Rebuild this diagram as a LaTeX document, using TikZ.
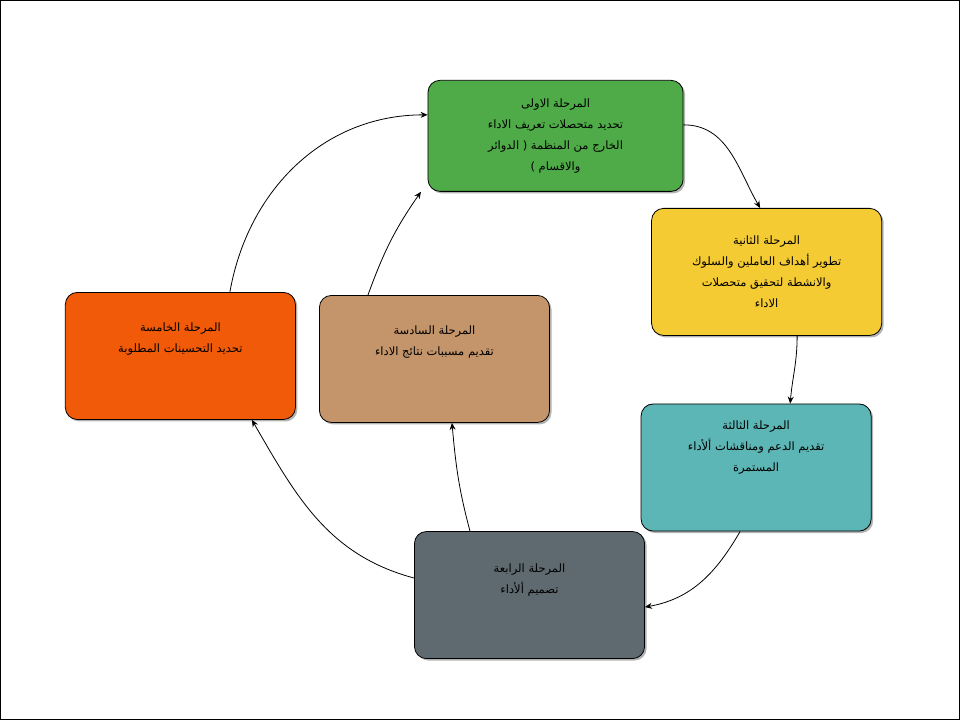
\documentclass[tikz,border=0pt]{standalone}
\usepackage{fontspec}
\newfontfamily\arabicfont[Script=Arabic]{DejaVu Sans}
\TeXXeTstate=1
\usetikzlibrary{shadows,arrows.meta}
\newcommand{\RL}[1]{\beginR #1\endR}
\definecolor{cA}{HTML}{4EAB47}
\definecolor{cB}{HTML}{F4CB33}
\definecolor{cC}{HTML}{5CB6B5}
\definecolor{cD}{HTML}{5F6A70}
\definecolor{cE}{HTML}{F05A08}
\definecolor{cF}{HTML}{C4956B}
\begin{document}
\begin{tikzpicture}[x=1pt,y=-1pt,
  stage/.style={draw=black, line width=0.8pt, rounded corners=12pt, minimum width=230pt, minimum height=127pt, align=center, font=\arabicfont\fontsize{11.5}{21}\selectfont, drop shadow={shadow xshift=2pt,shadow yshift=-2pt,opacity=0.6}},
  conn/.style={-{Stealth[length=7pt,width=6pt]}, line width=0.8pt}]
\draw[line width=0.6pt] (0.5,0.5) rectangle (959.5,719.5);
\node[stage, fill=cA, minimum width=255pt, minimum height=111pt] (s1) at (555.5,136) {\RL{المرحلة الاولى}\\\RL{تحديد متحصلات تعريف الاداء}\\\RL{الخارج من المنظمة ( الدوائر}\\\RL{والاقسام )}};
\node[stage, fill=cB] (s2) at (766.5,272) {\RL{المرحلة الثانية}\\\RL{تطوير أهداف العاملين والسلوك}\\\RL{والانشطة لتحقيق متحصلات}\\\RL{الاداء}};
\node[stage, fill=cC] (s3) at (756,467.5) {\RL{المرحلة الثالثة}\\\RL{تقديم الدعم ومناقشات ألأداء}\\\RL{المستمرة}\\[21pt]};
\node[stage, fill=cD] (s4) at (529.5,595) {\RL{المرحلة الرابعة}\\\RL{تصميم ألأداء}\\[12pt]};
\node[stage, fill=cE] (s5) at (180.5,356) {\RL{المرحلة الخامسة}\\\RL{تحديد التحسينات المطلوبة}\\[16pt]};
\node[stage, fill=cF] (s6) at (434.5,359) {\RL{المرحلة السادسة}\\\RL{تقديم مسببات نتائج الاداء}\\[16pt]};
\draw[conn] (s1.east |- 0,125) to[out=0,in=120] (s2.north west -| 760,0);
\draw[conn] (s2.south -| 797,0) to[out=-90,in=85] (s3.north -| 790,0);
\draw[conn] (s3.south -| 740,0) to[out=-120,in=10] (s4.east |- 0,607);
\draw[conn] (s4.west |- 0,578) to[out=165,in=-60] (s5.south -| 252,0);
\draw[conn] (s4.north -| 470,0) to[out=105,in=-85] (s6.south -| 452,0);
\draw[conn] (s6.north -| 368,0) to[out=70,in=-125] (s1.south west -| 421,0);
\draw[conn] (s5.north -| 230,0) to[out=80,in=180] (s1.west |- 0,115);
\end{tikzpicture}
\end{document}
